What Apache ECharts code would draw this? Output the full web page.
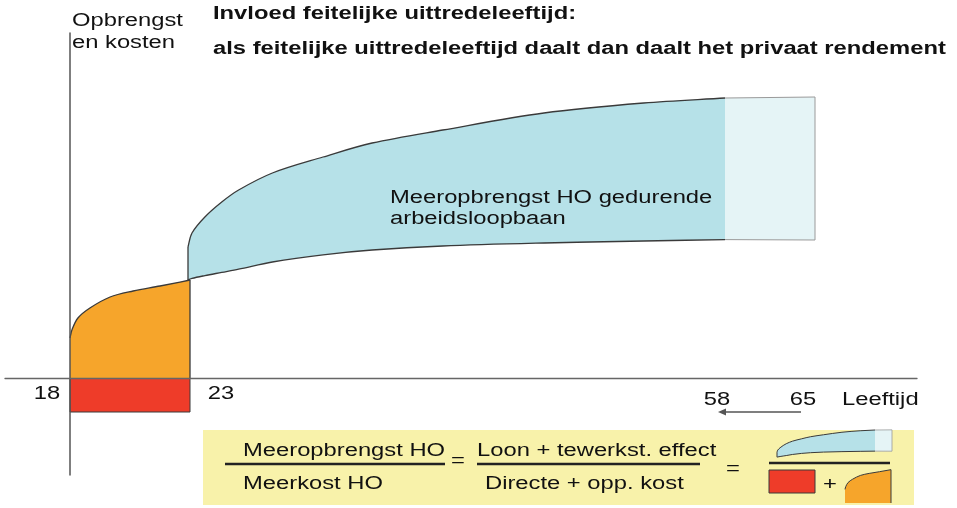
<!DOCTYPE html>
<html>
<head>
<meta charset="utf-8">
<script src="https://cdn.jsdelivr.net/npm/echarts@6/dist/echarts.min.js"></script>
<style>html,body{margin:0;padding:0;background:#fff}#c{width:957px;height:508px}</style>
</head>
<body>
<div id="c"></div>
<script>
// ---------- data (schematic units) ----------
const studyAges   = [18, 18.08, 18.33, 18.83, 19.67, 20.63, 21.75, 23];
const studyReturn = [10.0, 12.0, 15.0, 17.5, 20.25, 21.75, 23.0, 24.5];
const studyCost   = [-8.5];                       // directe + opp. kost (18-23)
const careerAges  = [23, 23.26, 24.1, 25.2, 26.3, 28.5, 31.8, 35.0, 39.6, 46.2, 52.7, 58];
const careerLow   = [24.5, 24.9, 25.6, 26.4, 27.2, 29.0, 30.8, 32.0, 33.0, 33.75, 34.25, 34.6];
const careerHigh  = [32.75, 36.25, 40.25, 44.0, 47.0, 51.25, 55.25, 58.75, 62.0, 66.25, 68.75, 70.0];
const lateAges    = [58, 65];
const lateLow     = [34.6, 34.5];
const lateHigh    = [70.0, 70.25];
const ageTicks    = [18, 23, 58, 65];

// ---------- style ----------
const RED = '#ee3c29', ORANGE = '#f6a52b', BLUE = '#b6e1e8', PALE = '#e5f4f6', YELLOW = '#f8f2aa';
const STROKE = '#3a3a3a';
const FONT = '"Liberation Sans", Arial, sans-serif';
const SX = 1.32;

const grids = [
  {left: 70,  width: 120, top: 33,  height: 442}, // 0 study
  {left: 188, width: 537, top: 33,  height: 442}, // 1 career
  {left: 725, width: 90,  top: 33,  height: 442}, // 2 late
  {left: 5,   width: 912, top: 33,  height: 442}, // 3 frame (x axis line)
  {left: 777, width: 98,  top: 420, height: 50},  // 4 mini career
  {left: 875, width: 17,  top: 420, height: 50},  // 5 mini late
  {left: 845, width: 46,  top: 470, height: 33},  // 6 mini study return
  {left: 769, width: 46,  top: 470, height: 23}   // 7 mini cost
];
const xr = [[18,23],[23,58],[58,65],[0,1],[23,58],[58,65],[18,23],[18,23]];
const yr = [[-24.25,86.25],[-24.25,86.25],[-24.25,86.25],[-24.25,86.25],[3,86.75],[3,86.75],[0,24.25],[-8.5,0]];

const xAxis = xr.map((r,i)=>({
  type:'value', gridIndex:i, min:r[0], max:r[1], show: i===3, z:10,
  axisLine:{show:i===3, onZero:true, lineStyle:{color:'#666', width:1.3}},
  axisTick:{show:false}, axisLabel:{show:false}, splitLine:{show:false}
}));
const yAxis = yr.map((r,i)=>({
  type:'value', gridIndex:i, min:r[0], max:r[1], show: i===0, z:10,
  axisLine:{show:i===0, onZero:false, lineStyle:{color:'#555', width:1.5}},
  axisTick:{show:false}, axisLabel:{show:false}, splitLine:{show:false}
}));

// smooth curve (cubic Bezier with chord-scaled tangents) through pixel points from api.coord
function f(v){ return v.toFixed(2); }
function unit(dx, dy){ const l = Math.hypot(dx, dy) || 1; return [dx/l, dy/l]; }
function curve(pts){
  const n = pts.length, tg = [];
  for (let i = 0; i < n; i++) {
    const a = pts[Math.max(0, i-1)], b = pts[Math.min(n-1, i+1)];
    tg.push(unit(b[0]-a[0], b[1]-a[1]));
  }
  let s = '';
  for (let i = 0; i < n - 1; i++) {
    const p1 = pts[i], p2 = pts[i+1];
    const d = Math.hypot(p2[0]-p1[0], p2[1]-p1[1]) / 3;
    const c1 = [p1[0] + tg[i][0]*d, p1[1] + tg[i][1]*d];
    const c2 = [p2[0] - tg[i+1][0]*d, p2[1] - tg[i+1][1]*d];
    s += ' C ' + f(c1[0]) + ' ' + f(c1[1]) + ' ' + f(c2[0]) + ' ' + f(c2[1]) + ' ' + f(p2[0]) + ' ' + f(p2[1]);
  }
  return s;
}
function M(p){ return 'M ' + f(p[0]) + ' ' + f(p[1]); }
function L(p){ return ' L ' + f(p[0]) + ' ' + f(p[1]); }
function seg(a, b, lw){ return {type:'line', shape:{x1:a[0],y1:a[1],x2:b[0],y2:b[1]}, style:{stroke:STROKE, lineWidth:lw}}; }

function costRect(ax, lw){
  return {type:'custom', xAxisIndex:ax, yAxisIndex:ax, z:2, silent:true, clip:false,
    data:[[studyAges[0], studyAges[studyAges.length-1], studyCost[0]]],
    renderItem:(p,api)=>{
      const a=api.coord([api.value(0),0]), b=api.coord([api.value(1),api.value(2)]);
      return {type:'rect', shape:{x:a[0],y:a[1],width:b[0]-a[0],height:b[1]-a[1]},
        style:{fill:RED, stroke:STROKE, lineWidth:lw}};
    }};
}
function studyArea(ax, lw){
  return {type:'custom', xAxisIndex:ax, yAxisIndex:ax, z:2, silent:true, clip:false,
    data:[[0]],
    renderItem:(p,api)=>{
      const pts = studyAges.map((a,i)=>api.coord([a, studyReturn[i]]));
      const b0 = api.coord([studyAges[0], 0]), b1 = api.coord([studyAges[studyAges.length-1], 0]);
      return {type:'group', children:[
        {type:'path', shape:{pathData: M(b0) + L(pts[0]) + curve(pts) + L(b1) + ' Z'}, style:{fill:ORANGE}},
        {type:'path', shape:{pathData: M(pts[0]) + curve(pts)}, style:{fill:null, stroke:STROKE, lineWidth:lw}},
        seg(b1, pts[pts.length-1], lw)
      ]};
    }};
}
function careerArea(ax, lw){
  return {type:'custom', xAxisIndex:ax, yAxisIndex:ax, z:2, silent:true, clip:false,
    data:[[0]],
    renderItem:(p,api)=>{
      const up = careerAges.map((a,i)=>api.coord([a, careerHigh[i]]));
      const lo = careerAges.map((a,i)=>api.coord([a, careerLow[i]]));
      const loR = lo.slice().reverse();
      return {type:'group', children:[
        {type:'path', shape:{pathData: M(up[0]) + curve(up) + L(loR[0]) + curve(loR) + ' Z'}, style:{fill:BLUE}},
        {type:'path', shape:{pathData: M(up[0]) + curve(up)}, style:{fill:null, stroke:STROKE, lineWidth:lw}},
        {type:'path', shape:{pathData: M(lo[0]) + curve(lo)}, style:{fill:null, stroke:STROKE, lineWidth:lw}},
        seg(lo[0], up[0], lw)
      ]};
    }};
}
function lateArea(ax, lw){
  return {type:'custom', xAxisIndex:ax, yAxisIndex:ax, z:2, silent:true, clip:false,
    data:[[0]],
    renderItem:(p,api)=>{
      const tl=api.coord([lateAges[0],lateHigh[0]]), tr=api.coord([lateAges[1],lateHigh[1]]);
      const br=api.coord([lateAges[1],lateLow[1]]), bl=api.coord([lateAges[0],lateLow[0]]);
      return {type:'group', children:[
        {type:'polygon', shape:{points:[tl,tr,br,bl]}, style:{fill:PALE}},
        {type:'polyline', shape:{points:[tl,tr,br,bl]}, style:{fill:null, stroke:'#9a9a9a', lineWidth:lw}}
      ]};
    }};
}

const series = [
  costRect(0, 1),
  studyArea(0, 1.3),
  careerArea(1, 1.3),
  lateArea(2, 1),
  // mini icons in the formula
  careerArea(4, 1),
  lateArea(5, 0.8),
  studyArea(6, 1),
  costRect(7, 1)
];

const chart = echarts.init(document.getElementById('c'), null, {renderer:'canvas'});
chart.setOption({animation:false, backgroundColor:'#fff', grid:grids, xAxis, yAxis, series});

function T(text, x, y, o){
  o = o || {};
  return {type:'text', x, y, scaleX:SX, z:100, silent:true,
    style:{text, font:(o.bold?'bold ':'')+(o.size||18)+'px '+FONT, fill:'#111',
      align:o.align||'left', textAlign:o.align||'left', verticalAlign:'middle', textVerticalAlign:'middle'}};
}
function HL(x1, x2, y, w){
  return {type:'line', z:50, silent:true, shape:{x1, y1:y, x2, y2:y}, style:{stroke:'#222', lineWidth:w||2}};
}

const p18 = chart.convertToPixel({gridIndex:0}, [ageTicks[0], 0]);
const p23 = chart.convertToPixel({gridIndex:0}, [ageTicks[1], 0]);
const p58 = chart.convertToPixel({gridIndex:2}, [ageTicks[2], 0]);
const p65 = chart.convertToPixel({gridIndex:2}, [ageTicks[3], 0]);
const ay = p18[1] + 34, ax1 = p65[0] - 14, ax2 = p58[0] - 7;

const elements = [
  {type:'rect', z:0, silent:true, shape:{x:203, y:430, width:711, height:75}, style:{fill:YELLOW}},
  T('Opbrengst', 72, 21),
  T('en kosten', 72, 43),
  T('Invloed feitelijke uittredeleeftijd:', 213, 14.5, {bold:true}),
  T('als feitelijke uittredeleeftijd daalt dan daalt het privaat rendement', 213, 49, {bold:true}),
  T('Meeropbrengst HO gedurende', 390, 198),
  T('arbeidsloopbaan', 390, 219),
  T(String(ageTicks[0]), p18[0]-23, p18[1]+16, {align:'center'}),
  T(String(ageTicks[1]), p23[0]+31, p23[1]+16, {align:'center'}),
  T(String(ageTicks[2]), p58[0]-8, p58[1]+22, {align:'center'}),
  T(String(ageTicks[3]), p65[0]-12, p65[1]+22, {align:'center'}),
  T('Leeftijd', 842, p65[1]+22),
  {type:'line', z:50, silent:true, shape:{x1:ax1, y1:ay, x2:ax2+6, y2:ay}, style:{stroke:'#555', lineWidth:1.5}},
  {type:'polygon', z:50, silent:true, shape:{points:[[ax2,ay],[ax2+8,ay-3.5],[ax2+8,ay+3.5]]}, style:{fill:'#555'}},
  // formula
  T('Meeropbrengst HO', 243, 451),
  HL(225, 445, 464, 2.5),
  T('Meerkost HO', 243, 484.5),
  T('=', 458, 461, {align:'center'}),
  T('Loon + tewerkst. effect', 477, 451),
  HL(477, 700, 464, 2.5),
  T('Directe + opp. kost', 485, 484.5),
  T('=', 733, 469, {align:'center'}),
  HL(769, 890, 463, 2.5),
  T('+', 830, 485, {align:'center'})
];
chart.setOption({graphic:{elements}});
</script>
</body>
</html>
